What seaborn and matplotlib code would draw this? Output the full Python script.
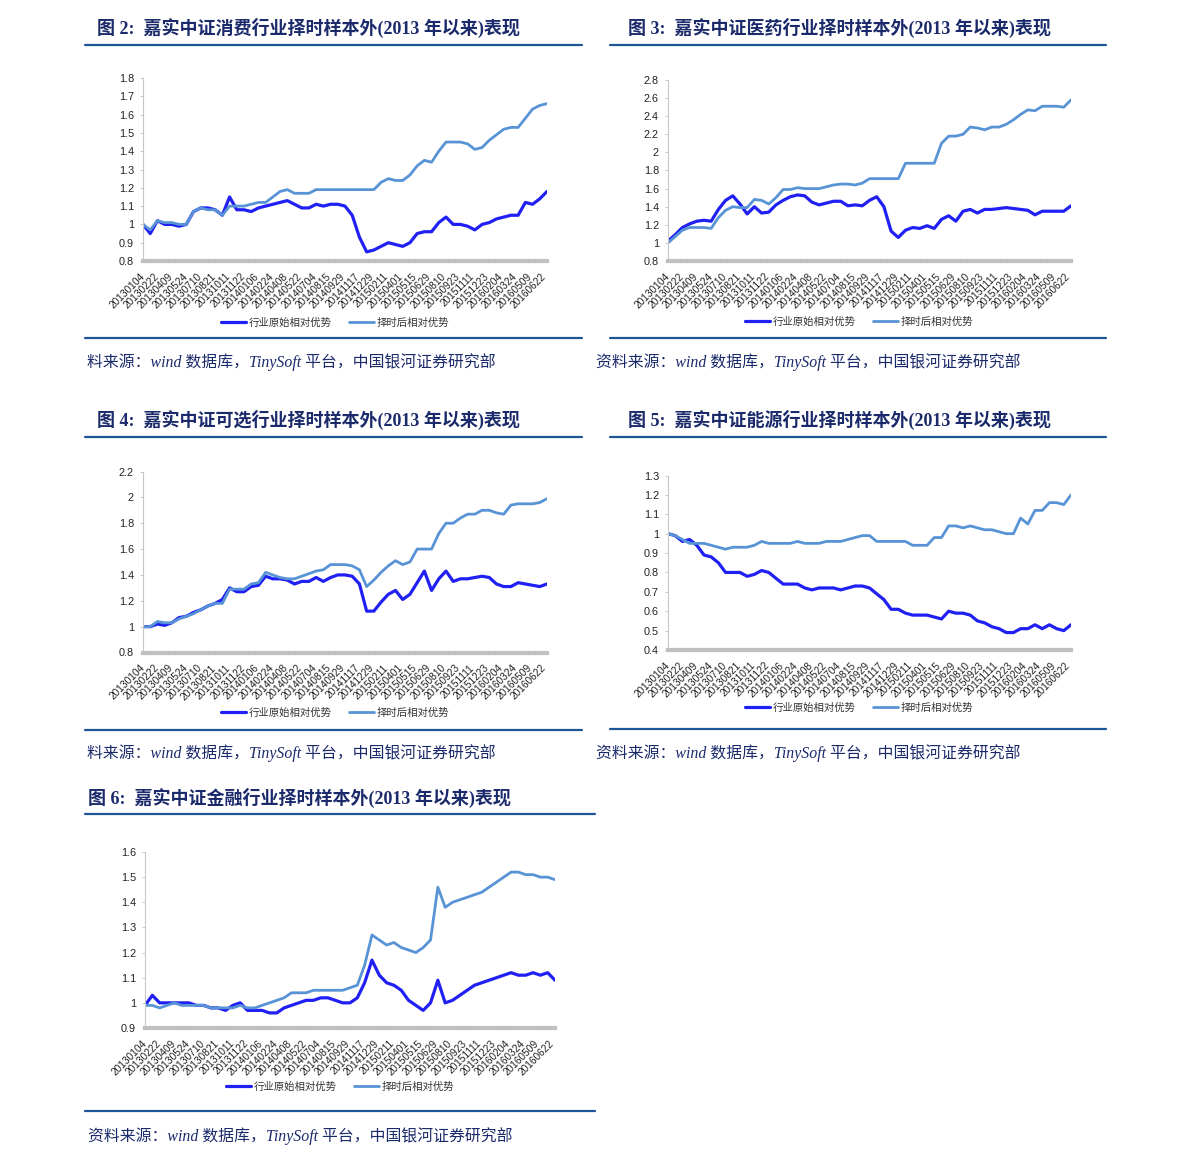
import numpy as np
import matplotlib
matplotlib.use('Agg')
import matplotlib.pyplot as plt
from matplotlib.lines import Line2D
from matplotlib.ticker import FuncFormatter
import seaborn as sns

# x 轴日期标签
date_labels = ['20130104', '20130222', '20130409', '20130524', '20130710', '20130821',
               '20131011', '20131122', '20140106', '20140224', '20140408', '20140522',
               '20140704', '20140815', '20140929', '20141117', '20141229', '20150211',
               '20150401', '20150515', '20150629', '20150810', '20150923', '20151111',
               '20151223', '20160204', '20160324', '20160509', '20160622']

series_names = ['行业原始相对优势', '择时后相对优势']

# 图 2 消费
consumer_raw = [1.00, 0.95, 1.02, 1.00, 1.00, 0.99, 1.00, 1.07, 1.09, 1.09,
                1.08, 1.05, 1.15, 1.08, 1.08, 1.07, 1.09, 1.10, 1.11, 1.12,
                1.13, 1.11, 1.09, 1.09, 1.11, 1.10, 1.11, 1.11, 1.10, 1.05,
                0.93, 0.85, 0.86, 0.88, 0.90, 0.89, 0.88, 0.90, 0.95, 0.96,
                0.96, 1.01, 1.04, 1.00, 1.00, 0.99, 0.97, 1.00, 1.01, 1.03,
                1.04, 1.05, 1.05, 1.12, 1.11, 1.14, 1.18]
consumer_timed = [1.00, 0.97, 1.02, 1.01, 1.01, 1.00, 1.00, 1.07, 1.09, 1.08,
                  1.08, 1.05, 1.10, 1.10, 1.10, 1.11, 1.12, 1.12, 1.15, 1.18,
                  1.19, 1.17, 1.17, 1.17, 1.19, 1.19, 1.19, 1.19, 1.19, 1.19,
                  1.19, 1.19, 1.19, 1.23, 1.25, 1.24, 1.24, 1.27, 1.32, 1.35,
                  1.34, 1.40, 1.45, 1.45, 1.45, 1.44, 1.41, 1.42, 1.46, 1.49,
                  1.52, 1.53, 1.53, 1.58, 1.63, 1.65, 1.66]

# 图 3 医药
pharma_raw = [1.02, 1.09, 1.17, 1.21, 1.24, 1.25, 1.24, 1.37, 1.47, 1.52,
              1.43, 1.32, 1.40, 1.33, 1.34, 1.42, 1.47, 1.51, 1.53, 1.52,
              1.45, 1.42, 1.44, 1.46, 1.46, 1.41, 1.42, 1.41, 1.47, 1.51,
              1.40, 1.13, 1.06, 1.14, 1.17, 1.16, 1.19, 1.16, 1.26, 1.30,
              1.24, 1.35, 1.37, 1.33, 1.37, 1.37, 1.38, 1.39, 1.38, 1.37,
              1.36, 1.31, 1.35, 1.35, 1.35, 1.35, 1.41]
pharma_timed = [1.00, 1.07, 1.14, 1.17, 1.17, 1.17, 1.16, 1.28, 1.36, 1.40,
                1.39, 1.39, 1.48, 1.47, 1.43, 1.50, 1.59, 1.59, 1.61, 1.60,
                1.60, 1.60, 1.62, 1.64, 1.65, 1.65, 1.64, 1.66, 1.71, 1.71,
                1.71, 1.71, 1.71, 1.88, 1.88, 1.88, 1.88, 1.88, 2.10, 2.18,
                2.18, 2.20, 2.28, 2.27, 2.25, 2.28, 2.28, 2.31, 2.36, 2.42,
                2.47, 2.46, 2.51, 2.51, 2.51, 2.50, 2.58]

# 图 4 可选
optional_raw = [1.00, 1.00, 1.02, 1.01, 1.03, 1.07, 1.08, 1.11, 1.13, 1.16,
                1.18, 1.21, 1.30, 1.27, 1.27, 1.31, 1.32, 1.39, 1.37, 1.37,
                1.36, 1.33, 1.35, 1.35, 1.38, 1.35, 1.38, 1.40, 1.40, 1.39,
                1.33, 1.12, 1.12, 1.19, 1.25, 1.28, 1.21, 1.25, 1.34, 1.43,
                1.28, 1.37, 1.43, 1.35, 1.37, 1.37, 1.38, 1.39, 1.38, 1.33,
                1.31, 1.31, 1.34, 1.33, 1.32, 1.31, 1.33]
optional_timed = [1.00, 1.00, 1.04, 1.03, 1.03, 1.06, 1.08, 1.10, 1.13, 1.16,
                  1.18, 1.18, 1.29, 1.29, 1.29, 1.33, 1.34, 1.42, 1.40, 1.38,
                  1.37, 1.37, 1.39, 1.41, 1.43, 1.44, 1.48, 1.48, 1.48, 1.47,
                  1.44, 1.31, 1.36, 1.42, 1.47, 1.51, 1.48, 1.50, 1.60, 1.60,
                  1.60, 1.72, 1.80, 1.80, 1.84, 1.87, 1.87, 1.90, 1.90, 1.88,
                  1.87, 1.94, 1.95, 1.95, 1.95, 1.96, 1.99]

# 图 5 能源
energy_raw = [1.00, 0.99, 0.96, 0.97, 0.94, 0.89, 0.88, 0.85, 0.80, 0.80,
              0.80, 0.78, 0.79, 0.81, 0.80, 0.77, 0.74, 0.74, 0.74, 0.72,
              0.71, 0.72, 0.72, 0.72, 0.71, 0.72, 0.73, 0.73, 0.72, 0.69,
              0.66, 0.61, 0.61, 0.59, 0.58, 0.58, 0.58, 0.57, 0.56, 0.60,
              0.59, 0.59, 0.58, 0.55, 0.54, 0.52, 0.51, 0.49, 0.49, 0.51,
              0.51, 0.53, 0.51, 0.53, 0.51, 0.50, 0.53]
energy_timed = [1.00, 0.99, 0.97, 0.95, 0.95, 0.95, 0.94, 0.93, 0.92, 0.93,
                0.93, 0.93, 0.94, 0.96, 0.95, 0.95, 0.95, 0.95, 0.96, 0.95,
                0.95, 0.95, 0.96, 0.96, 0.96, 0.97, 0.98, 0.99, 0.99, 0.96,
                0.96, 0.96, 0.96, 0.96, 0.94, 0.94, 0.94, 0.98, 0.98, 1.04,
                1.04, 1.03, 1.04, 1.03, 1.02, 1.02, 1.01, 1.00, 1.00, 1.08,
                1.05, 1.12, 1.12, 1.16, 1.16, 1.15, 1.20]

# 图 6 金融
finance_raw = [0.99, 1.03, 1.00, 1.00, 1.00, 1.00, 1.00, 0.99, 0.99, 0.98,
               0.98, 0.97, 0.99, 1.00, 0.97, 0.97, 0.97, 0.96, 0.96, 0.98,
               0.99, 1.00, 1.01, 1.01, 1.02, 1.02, 1.01, 1.00, 1.00, 1.02,
               1.08, 1.17, 1.11, 1.08, 1.07, 1.05, 1.01, 0.99, 0.97, 1.00,
               1.09, 1.00, 1.01, 1.03, 1.05, 1.07, 1.08, 1.09, 1.10, 1.11,
               1.12, 1.11, 1.11, 1.12, 1.11, 1.12, 1.09]
finance_timed = [0.99, 0.99, 0.98, 0.99, 1.00, 0.99, 0.99, 0.99, 0.99, 0.98,
                 0.98, 0.98, 0.98, 0.99, 0.98, 0.98, 0.99, 1.00, 1.01, 1.02,
                 1.04, 1.04, 1.04, 1.05, 1.05, 1.05, 1.05, 1.05, 1.06, 1.07,
                 1.15, 1.27, 1.25, 1.23, 1.24, 1.22, 1.21, 1.20, 1.22, 1.25,
                 1.46, 1.38, 1.40, 1.41, 1.42, 1.43, 1.44, 1.46, 1.48, 1.50,
                 1.52, 1.52, 1.51, 1.51, 1.50, 1.50, 1.49]

titles = ['图 2:  嘉实中证消费行业择时样本外(2013 年以来)表现',
          '图 3:  嘉实中证医药行业择时样本外(2013 年以来)表现',
          '图 4:  嘉实中证可选行业择时样本外(2013 年以来)表现',
          '图 5:  嘉实中证能源行业择时样本外(2013 年以来)表现',
          '图 6:  嘉实中证金融行业择时样本外(2013 年以来)表现']
source_full = '资料来源：wind 数据库，TinySoft 平台，中国银河证券研究部'
source_cut = '料来源：wind 数据库，TinySoft 平台，中国银河证券研究部'

sns.set_theme(style='white')
plt.rcParams['font.family'] = ['Liberation Sans', 'Noto Sans CJK SC']
plt.rcParams['axes.unicode_minus'] = False

W, H = 1191, 1166
fig = plt.figure(figsize=(W / 100, H / 100), dpi=100)

DARK = '#2020f4'
LIGHT = '#5893d6'
NAVY = '#1b2a6b'
RULE = '#1f5597'
SERIF_CJK = ['Liberation Serif', 'Noto Sans CJK SC']


def fx(px):
    return px / W


def fy(py):
    return 1 - py / H


def hline(x0, x1, y):
    fig.add_artist(Line2D([fx(x0), fx(x1)], [fy(y), fy(y)], color=RULE, lw=1.6,
                          transform=fig.transFigure))


def panel(box, raw, timed, ylo, yhi, ystep, title, tpos, rule, legend_c, src, spos):
    left, top, right, bottom = box
    ax = fig.add_axes([fx(left), fy(bottom), (right - left) / W, (bottom - top) / H])
    xs = np.linspace(0, 28.2, len(raw))
    sns.lineplot(x=xs, y=raw, ax=ax, color=DARK, lw=2.3)
    sns.lineplot(x=xs, y=timed, ax=ax, color=LIGHT, lw=2.0)

    ax.set_xlim(0, 28.2)
    ax.set_ylim(ylo, yhi)
    ax.set_yticks(np.arange(ylo, yhi + ystep / 2, ystep))
    ax.yaxis.set_major_formatter(FuncFormatter(lambda v, p: f'{round(v, 2):g}'))
    ax.set_xticks(range(len(date_labels)))
    ax.set_xticklabels(date_labels, rotation=45, ha='right', va='center',
                       rotation_mode='anchor')
    ax.set_xlabel('')
    ax.set_ylabel('')
    for s in ['top', 'right']:
        ax.spines[s].set_visible(False)
    ax.spines['left'].set_color('#c8c8c8')
    ax.spines['left'].set_linewidth(0.8)
    ax.spines['bottom'].set_color('#c0c0c0')
    ax.spines['bottom'].set_linewidth(3)
    ax.spines['bottom'].set_linestyle((0, (1.2, 0.4)))
    ax.tick_params(axis='y', left=True, length=2.5, width=0.6, color='#c0c0c0',
                   labelsize=7.8, labelcolor='#222222', pad=4)
    ax.tick_params(axis='x', bottom=False, labelsize=7.3, labelcolor='#222222', pad=4)
    ax.grid(False)

    fig.text(fx(tpos[0]), fy(tpos[1]), title, ha='left', va='center', fontsize=13,
             fontweight='bold', color=NAVY, family=SERIF_CJK)
    hline(rule[0], rule[1], rule[2])
    hline(rule[0], rule[1], rule[3])

    handles = [Line2D([], [], color=DARK, lw=2.3), Line2D([], [], color=LIGHT, lw=2.0)]
    leg = fig.legend(handles, series_names, loc='center',
                     bbox_to_anchor=(fx(legend_c[0]), fy(legend_c[1])), ncol=2,
                     frameon=False, fontsize=7.5, handlelength=2.4, handletextpad=0.3,
                     columnspacing=1.6)
    for t in leg.get_texts():
        t.set_color('#333333')

    fig.text(fx(spos[0]), fy(spos[1]), src, ha='left', va='center', fontsize=11.4,
             style='italic', color=NAVY, family=SERIF_CJK)


panel((143, 78, 547, 261), consumer_raw, consumer_timed, 0.8, 1.8, 0.1,
      titles[0], (97, 28), (85, 582, 45, 338), (335, 323), source_cut, (87, 362))
panel((668, 80, 1071, 261), pharma_raw, pharma_timed, 0.8, 2.8, 0.2,
      titles[1], (628, 28), (610, 1106, 45, 338), (859, 322), source_full, (596, 362))
panel((143, 471.5, 547, 652.5), optional_raw, optional_timed, 0.8, 2.2, 0.2,
      titles[2], (97, 420), (85, 582, 437, 730), (335, 713), source_cut, (87, 753))
panel((668, 475.5, 1071, 650), energy_raw, energy_timed, 0.4, 1.3, 0.1,
      titles[3], (628, 420), (610, 1106, 437, 729), (859, 708), source_full, (596, 753))
panel((145, 852, 555, 1028), finance_raw, finance_timed, 0.9, 1.6, 0.1,
      titles[4], (88, 798), (85, 595, 814, 1111), (340, 1087), source_full, (88, 1136))

fig.savefig('out.png', dpi=100)
